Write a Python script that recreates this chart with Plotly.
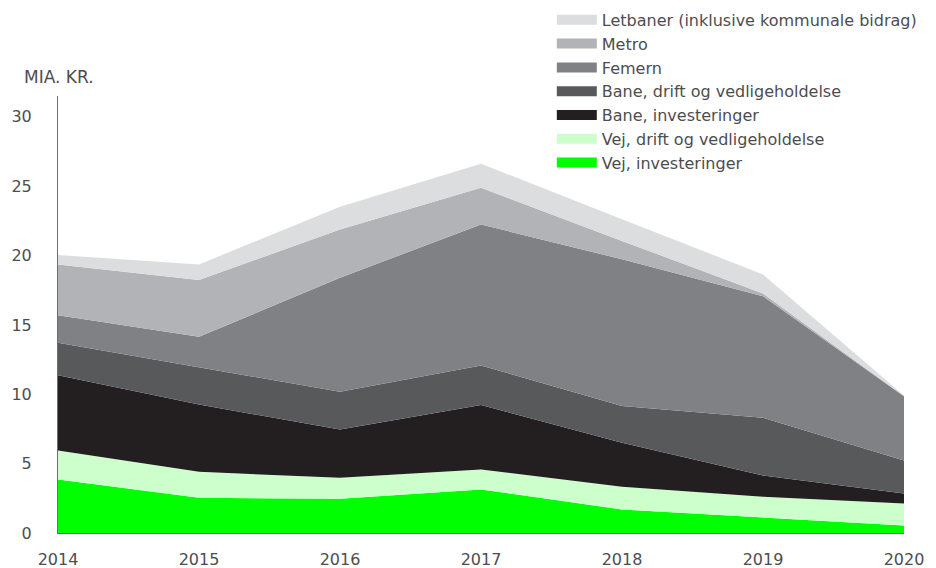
import plotly.graph_objects as go

years = [2014, 2015, 2016, 2017, 2018, 2019, 2020]

vej_inv = [3.86, 2.54, 2.47, 3.14, 1.70, 1.10, 0.54]
vej_drift = [2.09, 1.87, 1.51, 1.44, 1.64, 1.51, 1.59]
bane_inv = [5.43, 4.85, 3.48, 4.64, 3.17, 1.54, 0.72]
bane_drift = [2.33, 2.70, 2.72, 2.86, 2.64, 4.15, 2.38]
femern = [1.99, 2.18, 8.22, 10.16, 10.58, 8.77, 4.63]
metro = [3.66, 4.09, 3.48, 2.65, 1.32, 0.20, 0.00]
letbaner = [0.67, 1.13, 1.64, 1.73, 1.56, 1.37, 0.05]

series = [
    ("Vej, investeringer", vej_inv, "#00FF00"),
    ("Vej, drift og vedligeholdelse", vej_drift, "#CCFFCC"),
    ("Bane, investeringer", bane_inv, "#231F20"),
    ("Bane, drift og vedligeholdelse", bane_drift, "#58595B"),
    ("Femern", femern, "#808184"),
    ("Metro", metro, "#B1B3B6"),
    ("Letbaner (inklusive kommunale bidrag)", letbaner, "#DCDDDE"),
]

FONT = "DejaVu Sans"
TXT = "#4D4D4F"

fig = go.Figure()
for name, vals, col in series:
    fig.add_trace(go.Scatter(
        x=years, y=vals, name=name, mode="lines",
        stackgroup="one", line=dict(width=0, color=col),
        fillcolor=col, hoverinfo="x+y+name", showlegend=False,
        legendgroup=name,
    ))
# legend-only entries (thick swatches like the reference)
for name, vals, col in series:
    fig.add_trace(go.Scatter(
        x=[None], y=[None], name=name, mode="lines",
        line=dict(width=13, color=col), legendgroup=name,
        hoverinfo="skip", showlegend=True,
    ))

fig.update_layout(
    width=936, height=568,
    margin=dict(l=58, r=32, t=96, b=35, autoexpand=False),
    paper_bgcolor="white", plot_bgcolor="white",
    font=dict(family=FONT, size=16, color=TXT),
    showlegend=True,
    legend=dict(
        traceorder="reversed", x=0.5837, y=1.213, xanchor="left", yanchor="top",
        bgcolor="rgba(0,0,0,0)", font=dict(family=FONT, size=16, color=TXT),
        itemwidth=40,
    ),
    xaxis=dict(
        range=[2014, 2020], tickvals=years, ticktext=[str(y) for y in years],
        showgrid=False, zeroline=False, showline=True, linecolor="#6D6E71",
        linewidth=1, ticks="", ticklabelstandoff=12, automargin=False,
    ),
    yaxis=dict(
        range=[0, 31.5], tickvals=[0, 5, 10, 15, 20, 25, 30],
        showgrid=False, zeroline=False, showline=True, linecolor="#6D6E71",
        linewidth=1, ticks="", ticklabelstandoff=22, automargin=False,
    ),
    annotations=[dict(
        text="MIA. KR.", xref="paper", yref="paper", x=-0.0426, y=1.0435,
        xanchor="left", yanchor="middle", showarrow=False,
        font=dict(family=FONT, size=17, color=TXT),
    )],
)

fig.write_html(
    "out.html",
    config={"displayModeBar": False},
    post_script="document.body.style.margin='0';document.body.style.padding='0';",
)
